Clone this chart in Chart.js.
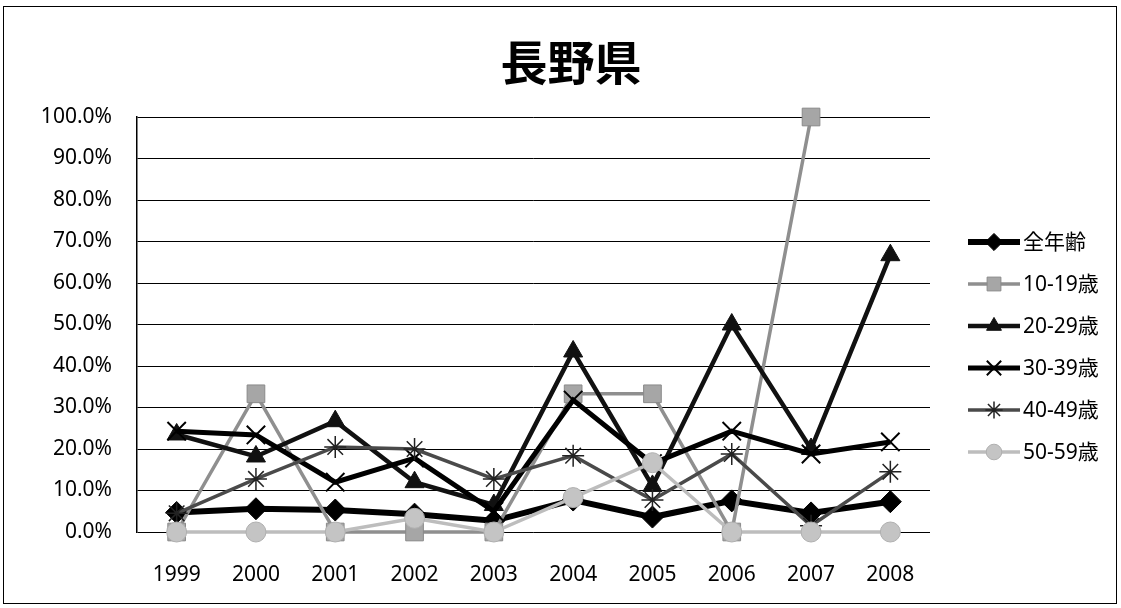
<!DOCTYPE html>
<html><head><meta charset="utf-8">
<script src="https://cdn.jsdelivr.net/npm/chart.js@4.4.0/dist/chart.umd.min.js"></script>
<style>html,body{margin:0;padding:0;background:#fff}#wrap{width:1121px;height:608px;position:relative}</style>
</head><body><div id="wrap"><canvas id="c" width="1121" height="608"></canvas></div>
<script>
const categories = ['1999','2000','2001','2002','2003','2004','2005','2006','2007','2008'];
const allAges  = [4.7, 5.6, 5.3, 4.3, 2.7, 7.7, 3.6, 7.5, 4.6, 7.3];
const age10_19 = [0, 33.3, 0, 0, 0, 33.3, 33.3, 0, 100, null];
const age20_29 = [23.5, 18.2, 26.7, 12.0, 6.5, 43.5, 11.1, 50.0, 20.0, 66.7];
const age30_39 = [24.3, 23.4, 12.0, 17.8, 5.0, 31.8, 16.5, 24.3, 18.8, 21.7];
const age40_49 = [4.5, 12.8, 20.5, 20.0, 12.8, 18.4, 7.7, 18.8, 1.5, 14.5];
const age50_59 = [0, 0, 0, 3.3, 0, 8.3, 16.7, 0, 0, 0];
const seriesNames = ['全年齢','10-19歳','20-29歳','30-39歳','40-49歳','50-59歳'];
const yTickLabels = ['0.0%','10.0%','20.0%','30.0%','40.0%','50.0%','60.0%','70.0%','80.0%','90.0%','100.0%'];
const titleText = '長野県';

const FONT = '"Noto Sans", "Noto Sans CJK JP", sans-serif';

const styles = [
  {line:'#000000', width:6, point:'rectRot', r:11, fill:'#000000', stroke:'#000000', pw:1},
  {line:'#8f8f8f', width:3.5, point:'rect', r:12.5, fill:'#a6a6a6', stroke:'#8a8a8a', pw:1},
  {line:'#111111', width:4.5, point:'triangle', r:11, fill:'#111111', stroke:'#111111', pw:1},
  {line:'#000000', width:5, point:'crossRot', r:13, fill:'#000000', stroke:'#000000', pw:2},
  {line:'#4a4a4a', width:3.5, point:'star', r:11, fill:'#222222', stroke:'#222222', pw:1.5},
  {line:'#bdbdbd', width:3.5, point:'circle', r:10, fill:'#c4c4c4', stroke:'#b0b0b0', pw:1}
];
const seriesData = [allAges, age10_19, age20_29, age30_39, age40_49, age50_59];

const datasets = seriesData.map((d, i) => ({
  label: seriesNames[i],
  data: d,
  borderColor: styles[i].line,
  borderWidth: styles[i].width,
  pointStyle: styles[i].point,
  pointRadius: styles[i].r,
  pointHoverRadius: styles[i].r,
  pointBackgroundColor: styles[i].fill,
  pointBorderColor: styles[i].stroke,
  pointBorderWidth: styles[i].pw,
  fill: false,
  tension: 0,
  spanGaps: false,
  clip: false,
  order: 6 - i
}));

function drawMarker(ctx, st, x, y, r) {
  if (Chart.helpers && Chart.helpers.drawPoint) {
    ctx.save();
    ctx.fillStyle = st.fill; ctx.strokeStyle = st.stroke; ctx.lineWidth = st.pw;
    Chart.helpers.drawPoint(ctx, {pointStyle: st.point, radius: r, rotation: 0, borderWidth: st.pw}, x, y);
    ctx.restore();
  } else {
    ctx.save(); ctx.fillStyle = st.fill;
    ctx.beginPath(); ctx.arc(x, y, r, 0, Math.PI*2); ctx.fill(); ctx.restore();
  }
}

const extras = {
  id: 'extras',
  beforeDraw(chart) {
    const ctx = chart.ctx;
    ctx.save();
    ctx.fillStyle = '#fff'; ctx.fillRect(0, 0, chart.width, chart.height);
    ctx.strokeStyle = '#000'; ctx.lineWidth = 1;
    ctx.strokeRect(3.5, 6.5, 1113, 597);
    ctx.font = 'bold 47px "Noto Sans CJK JP", sans-serif';
    ctx.fillStyle = '#000'; ctx.textAlign = 'center'; ctx.textBaseline = 'middle';
    ctx.fillText(titleText, 571, 62);
    ctx.restore();
  },
  afterDraw(chart) {
    const ctx = chart.ctx;
    ctx.save();
    const x0 = 968, x1 = 1020, tx = 1023;
    const yStart = 242, step = 42;
    ctx.font = '21px ' + FONT;
    ctx.textBaseline = 'middle';
    ctx.textAlign = 'left';
    seriesNames.forEach((name, i) => {
      const st = styles[i];
      const y = yStart + i * step;
      ctx.strokeStyle = st.line; ctx.lineWidth = st.width;
      ctx.beginPath(); ctx.moveTo(x0, y); ctx.lineTo(x1, y); ctx.stroke();
      drawMarker(ctx, st, (x0 + x1) / 2, y, st.r * 0.78);
      ctx.fillStyle = '#000';
      ctx.fillText(name, tx, y + 1);
    });
    ctx.restore();
  }
};

new Chart(document.getElementById('c'), {
  type: 'line',
  data: { labels: categories, datasets },
  options: {
    responsive: false,
    animation: false,
    devicePixelRatio: 1,
    layout: { padding: { left: 0, right: 191, top: 117, bottom: 0 } },
    plugins: {
      legend: { display: false },
      tooltip: { enabled: false },
      title: { display: false }
    },
    scales: {
      x: {
        offset: true,
        grid: { display: false, drawTicks: false },
        border: { display: false },
        ticks: { color: '#000', font: { size: 21, family: FONT }, padding: 30, maxRotation: 0 },
        afterFit(s) { s.height = 76; }
      },
      y: {
        min: 0, max: 100,
        ticks: { stepSize: 10, color: '#000', font: { size: 21, family: FONT }, padding: 25,
          callback: (v, i) => yTickLabels[i] },
        grid: { color: '#000', lineWidth: 1, drawTicks: false },
        border: { display: true, color: '#000', width: 1.5 },
        afterFit(s) { s.width = 137; }
      }
    }
  },
  plugins: [extras]
});
</script>
</body></html>
